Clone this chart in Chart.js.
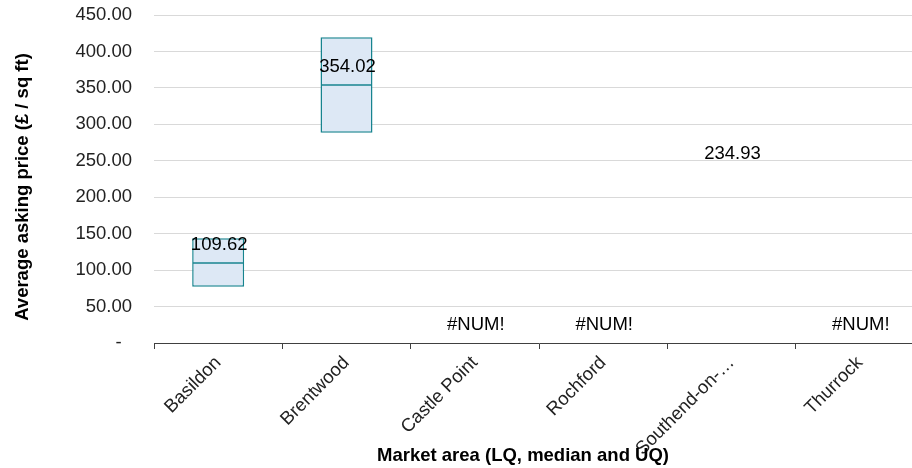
<!DOCTYPE html>
<html><head><meta charset="utf-8">
<script src="https://cdn.jsdelivr.net/npm/chart.js@4.4.1/dist/chart.umd.min.js"></script>
<style>
html,body{margin:0;padding:0;background:#fff;overflow:hidden;width:912px;height:468px}
#wrap{position:absolute;left:0;top:0;width:926px;height:468px}
</style>
</head><body>
<div id="wrap"><canvas id="c" width="926" height="468"></canvas></div>
<script>
const categories = ['Basildon', 'Brentwood', 'Castle Point', 'Rochford', 'Southend-on-Sea', 'Thurrock'];
const lowerQuartile = [77.2, 288.6, null, null, null, null];
const median = [109.62, 354.02, null, null, 234.93, null];
const upperQuartile = [143.7, 419.5, null, null, null, null];
const yTickValues = [0, 50, 100, 150, 200, 250, 300, 350, 400, 450];
const missingLabel = '#NUM!';
const xTitle = 'Market area (LQ, median and UQ)';
const yTitle = 'Average asking price (£ / sq ft)';

const FONT = '"Liberation Sans", Arial, sans-serif';
const FS = 18.5;
const BAR_PCT = 0.405;
const BOX_FILL = '#dde8f5';
const BOX_EDGE = '#17848f';

Chart.defaults.font.family = FONT;

const boxes = categories.map((c, i) =>
  (lowerQuartile[i] != null && upperQuartile[i] != null) ? [lowerQuartile[i], upperQuartile[i]] : null);
const medianLines = categories.map((c, i) => boxes[i] ? median[i] : null);

const valueLabels = {
  id: 'valueLabels',
  afterDatasetsDraw(chart) {
    const { ctx, scales: { x, y } } = chart;
    ctx.save();
    ctx.font = FS + 'px ' + FONT;
    ctx.fillStyle = '#000';
    ctx.textAlign = 'center';
    ctx.textBaseline = 'alphabetic';
    categories.forEach((c, i) => {
      const v = median[i];
      const px = x.getPixelForValue(i);
      const py = y.getPixelForValue(v != null ? v : 0);
      ctx.fillText(v != null ? v.toFixed(2) : missingLabel, px + 1, py - 13);
    });
    ctx.restore();
  }
};

const axisTitles = {
  id: 'axisTitles',
  afterDraw(chart) {
    const { ctx } = chart;
    ctx.save();
    ctx.fillStyle = '#000';
    ctx.font = 'bold ' + FS + 'px ' + FONT;
    ctx.textAlign = 'center';
    ctx.textBaseline = 'middle';
    ctx.fillText(xTitle, 523, 456);
    ctx.translate(23, 187);
    ctx.rotate(-Math.PI / 2);
    ctx.fillText(yTitle, 0, 0);
    ctx.restore();
  }
};

new Chart(document.getElementById('c'), {
  type: 'bar',
  data: {
    labels: categories,
    datasets: [
      {
        type: 'line',
        label: 'Median',
        data: medianLines,
        showLine: false,
        pointStyle: 'line',
        pointRadius: (ctx) => {
          const xs = ctx.chart.scales.x;
          return xs ? xs.width / categories.length * BAR_PCT / 2 - 0.75 : 20;
        },
        pointBorderColor: BOX_EDGE,
        pointBorderWidth: 1.5,
        pointHoverRadius: 0,
        order: 0
      },
      {
        type: 'bar',
        label: 'LQ to UQ',
        data: boxes,
        backgroundColor: BOX_FILL,
        borderColor: BOX_EDGE,
        borderWidth: 1.5,
        borderSkipped: false,
        barPercentage: BAR_PCT,
        categoryPercentage: 1,
        order: 1
      }
    ]
  },
  options: {
    responsive: false,
    devicePixelRatio: 1,
    animation: false,
    layout: { padding: { top: 15, left: 8, right: 2, bottom: 0 } },
    plugins: { legend: { display: false }, tooltip: { enabled: false } },
    scales: {
      x: {
        offset: true,
        grid: { offset: true, drawOnChartArea: false, drawTicks: true, tickLength: 6, color: '#404040', lineWidth: 1 },
        border: { display: true, color: '#404040', width: 1 },
        ticks: {
          autoSkip: false, minRotation: 45, maxRotation: 45, padding: 3,
          color: '#222', font: { size: FS },
          callback: function (v, i) {
            const s = categories[i];
            return s.length > 12 ? s.slice(0, 12) + '…' : s;
          }
        },
        afterFit: (s) => { s.height = 125; s.paddingLeft = 0; s.paddingRight = 0; }
      },
      y: {
        min: 0, max: 450,
        afterBuildTicks: (s) => { s.ticks = yTickValues.map(v => ({ value: v })); },
        grid: { color: '#d9d9d9', lineWidth: 1, drawTicks: false },
        border: { display: false },
        ticks: {
          padding: 22, color: '#222', font: { size: FS },
          callback: (v) => v === 0 ? '-  ' : Number(v).toFixed(2)
        },
        afterFit: (s) => { s.width = 146; s.paddingTop = 0; s.paddingBottom = 0; }
      }
    }
  },
  plugins: [valueLabels, axisTitles]
});
</script>
</body></html>
